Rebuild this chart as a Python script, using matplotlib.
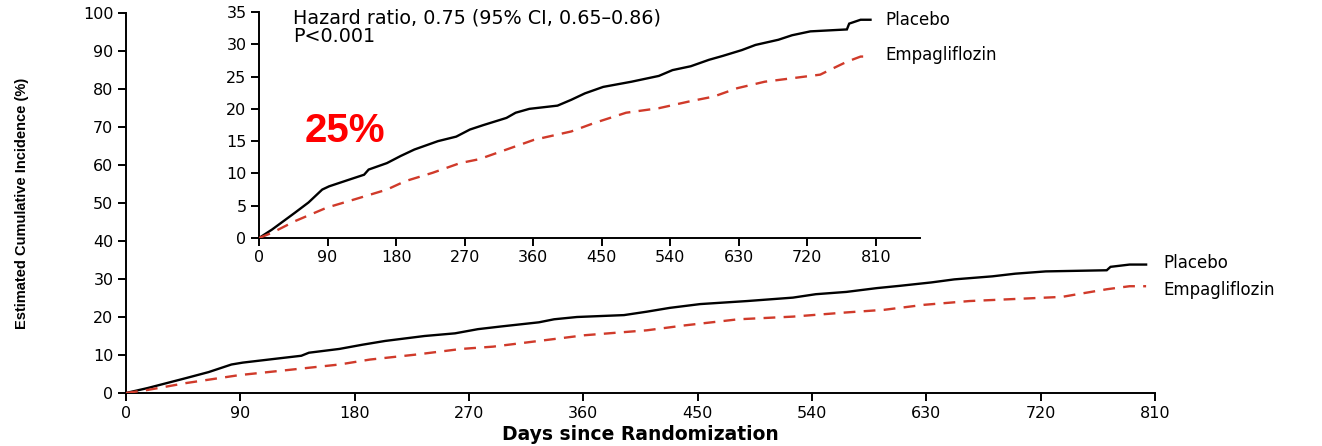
import matplotlib
matplotlib.use("Agg")
import matplotlib.pyplot as plt

# ---- data ----
placebo_days = [0, 17, 47, 65, 83, 92, 120, 138, 144, 168, 186, 204, 235, 259, 277, 295, 325, 337, 355,
                392, 410, 428, 452, 489, 525, 543, 567, 591, 609, 634, 652, 682, 700, 724, 772, 775, 790, 803]
placebo_pct = [0, 1.3, 3.9, 5.5, 7.5, 8.0, 9.1, 9.8, 10.6, 11.6, 12.7, 13.7, 15.0, 15.7, 16.8, 17.5, 18.6,
               19.4, 20.0, 20.5, 21.4, 22.4, 23.4, 24.2, 25.1, 26.0, 26.6, 27.6, 28.2, 29.1, 29.9, 30.7,
               31.4, 32.0, 32.3, 33.2, 33.8, 33.8]
empa_days = [0, 17, 47, 89, 126, 168, 192, 228, 264, 289, 337, 361, 410, 440, 482, 525, 567, 597, 628,
             664, 737, 749, 772, 790, 803]
empa_pct = [0, 0.8, 2.6, 4.7, 6.0, 7.5, 8.8, 10.1, 11.6, 12.2, 14.2, 15.2, 16.5, 17.8, 19.4, 20.1, 21.2,
            21.9, 23.2, 24.2, 25.3, 26.0, 27.3, 28.1, 28.1]
x_ticks = [0, 90, 180, 270, 360, 450, 540, 630, 720, 810]
main_y_ticks = [0, 10, 20, 30, 40, 50, 60, 70, 80, 90, 100]
inset_y_ticks = [0, 5, 10, 15, 20, 25, 30, 35]
series_labels = ["Placebo", "Empagliflozin"]
hr_text = "Hazard ratio, 0.75 (95% CI, 0.65\u20130.86)\nP<0.001"
reduction_text = "25%"

RED = "#d03a2a"
W, H = 1322, 446
fig = plt.figure(figsize=(W / 100, H / 100), dpi=100)


def style(ax):
    for s in ("top", "right"):
        ax.spines[s].set_visible(False)
    for s in ("left", "bottom"):
        ax.spines[s].set_linewidth(1.4)
    ax.tick_params(direction="out", length=6, width=1.4, labelsize=11.5, pad=3)


def draw(ax):
    ax.plot(placebo_days, placebo_pct, color="black", lw=1.7, zorder=3, solid_joinstyle="miter")
    ax.plot(empa_days, empa_pct, color=RED, lw=1.7, dashes=(5, 3.5), zorder=3)


# main axes
ax = fig.add_axes([126 / W, 1 - 393 / H, (1155 - 126) / W, (393 - 13) / H])
draw(ax)
ax.set_xlim(0, 810)
ax.set_ylim(0, 100)
ax.set_xticks(x_ticks)
ax.set_yticks(main_y_ticks)
style(ax)
ax.set_xlabel("Days since Randomization", fontsize=13.5, fontweight="bold", labelpad=3)
ax.text(1.008, placebo_pct[-1] + 0.3, series_labels[0], transform=ax.get_yaxis_transform(),
        fontsize=12, va="center", ha="left")
ax.text(1.008, empa_pct[-1] - 1.0, series_labels[1], transform=ax.get_yaxis_transform(),
        fontsize=12, va="center", ha="left")

fig.text(22 / W, 1 - 203 / H, "Estimated Cumulative Incidence (%)", rotation=90,
         family=["Liberation Sans", "DejaVu Sans"], fontweight="bold", fontsize=10.5,
         ha="center", va="center")

# inset axes
axi = fig.add_axes([259 / W, 1 - 238 / H, (920 - 259) / W, (238 - 12) / H])
draw(axi)
axi.set_xlim(0, 868)
axi.set_ylim(0, 35)
axi.set_xticks(x_ticks)
axi.set_yticks(inset_y_ticks)
style(axi)
axi.patch.set_alpha(0)
axi.text(823, 33.8, series_labels[0], fontsize=12, va="center", ha="left", clip_on=False)
axi.text(823, 28.3, series_labels[1], fontsize=12, va="center", ha="left", clip_on=False)
axi.text(45, 35.5, hr_text, fontsize=13.8, va="top", ha="left", linespacing=0.95)
axi.text(60, 16.5, reduction_text, color="#ff0000", fontsize=29, fontweight="bold",
         family=["Liberation Sans", "DejaVu Sans"], va="center", ha="left")

fig.savefig("out.png", dpi=100)
